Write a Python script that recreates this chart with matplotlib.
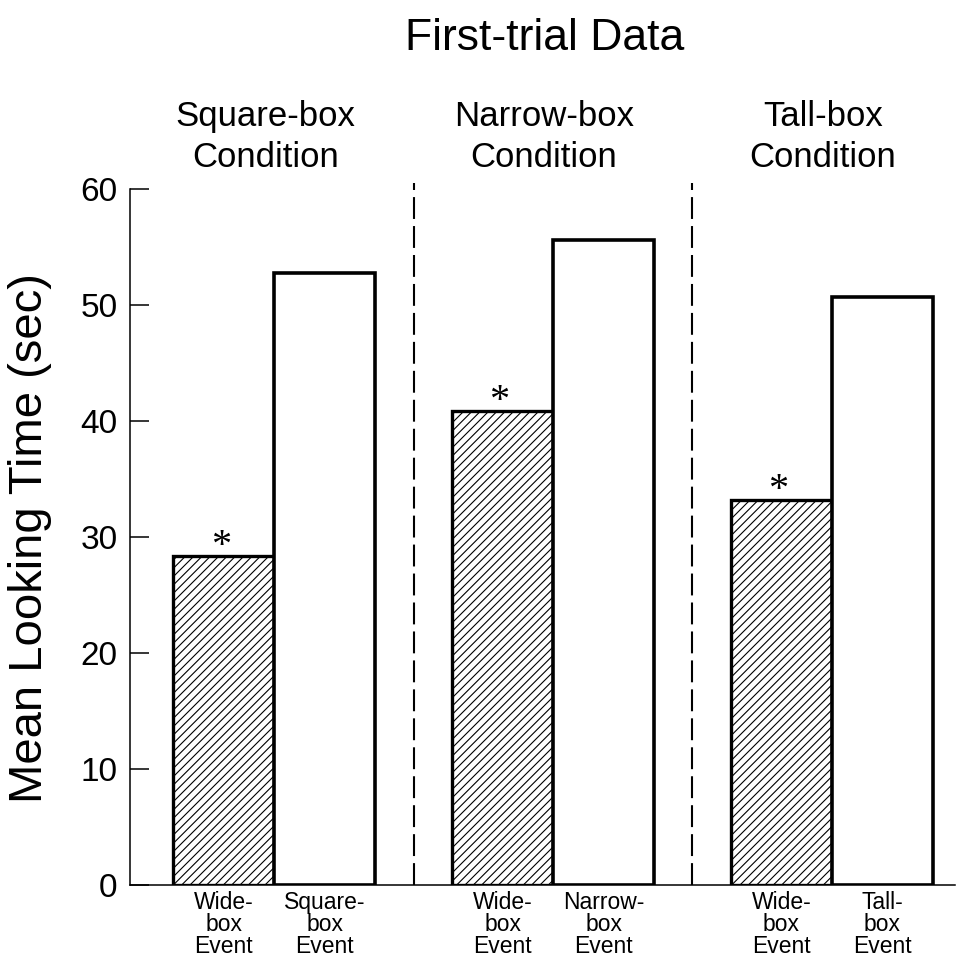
import numpy as np
import matplotlib
matplotlib.use('Agg')
import matplotlib.pyplot as plt

plt.rcParams['font.family'] = ['Liberation Sans', 'DejaVu Sans']
plt.rcParams['hatch.linewidth'] = 0.8
plt.rcParams['hatch.color'] = '#4a4a4a'

# Data
conditions = ['Square-box\nCondition', 'Narrow-box\nCondition', 'Tall-box\nCondition']
wide_box = [28.4, 40.9, 33.2]        # hatched bars (wide-box event)
test_event = [52.8, 55.6, 50.7]      # white bars (condition-specific event)
tick_labels = ['Wide-\nbox\nEvent', 'Square-\nbox\nEvent',
               'Wide-\nbox\nEvent', 'Narrow-\nbox\nEvent',
               'Wide-\nbox\nEvent', 'Tall-\nbox\nEvent']
yticks = [0, 10, 20, 30, 40, 50, 60]

fig = plt.figure(figsize=(9.56, 9.61), dpi=100)
W, H = 956, 961
ax = fig.add_axes([130 / W, (H - 885) / H, (955 - 130) / W, (885 - 189) / H])

group_step = 2.76
g = np.arange(len(conditions)) * group_step
x_wide = g
x_test = g + 1.0

ax.bar(x_wide, wide_box, width=1.0, color='white', edgecolor='black',
       linewidth=2.4, hatch='////', zorder=2)
ax.bar(x_test, test_event, width=1.0, color='white', edgecolor='black',
       linewidth=2.6, zorder=3)

# significance stars above hatched bars
for xi, v in zip(x_wide, wide_box):
    ax.annotate('*', xy=(xi - 0.03, v), xytext=(0, 0), textcoords='offset points',
                ha='center', va='baseline', fontsize=29,
                fontfamily='Liberation Serif')

# dashed separators between conditions
for xs in (x_test[:-1] + x_wide[1:]) / 2:
    ax.plot([xs, xs], [0, 60.5], color='black', lw=1.5,
            dashes=(10.5, 3.4), clip_on=False, zorder=1)

# condition headings
for xc, name in zip(g + 0.41, conditions):
    ax.text(xc, 61.9, name, ha='center', va='baseline', fontsize=25,
            linespacing=1.29)

ax.set_xlim(-0.93, 7.24)
ax.set_ylim(0, 60)
ax.set_yticks(yticks)
ax.tick_params(axis='y', direction='in', length=14, width=1.1,
               labelsize=24, pad=9)
ax.set_xticks(np.ravel(np.column_stack([x_wide, x_test])))
ax.set_xticklabels(tick_labels, fontsize=16.5, linespacing=0.96)
ax.tick_params(axis='x', length=0, pad=4)

for s in ['top', 'right']:
    ax.spines[s].set_visible(False)
ax.spines['left'].set_linewidth(1.1)
ax.spines['bottom'].set_linewidth(1.1)

fig.text(30 / W, 1 - 538 / H, 'Mean Looking Time (sec)', rotation=90,
         ha='center', va='center', fontsize=34)
fig.text(545 / W, 1 - 50 / H, 'First-trial Data', ha='center',
         va='baseline', fontsize=32)

fig.savefig('out.png', dpi=100)
